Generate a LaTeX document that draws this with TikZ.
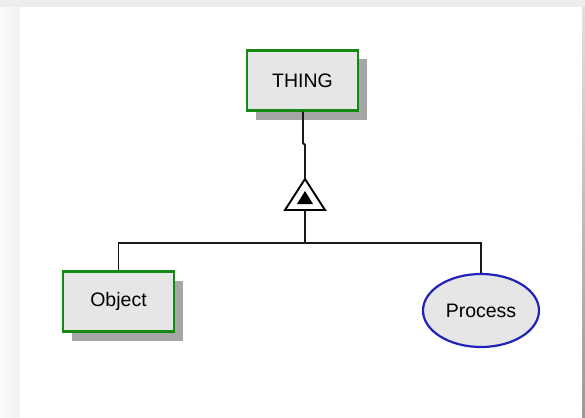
\documentclass[tikz,border=0pt]{standalone}
\usepackage{fontspec}
\setmainfont{Liberation Sans}
\usepackage{tikz}
\usetikzlibrary{shapes.geometric,shadows,calc}
\definecolor{boxfill}{HTML}{E6E6E6}
\definecolor{boxline}{HTML}{148A14}
\definecolor{ovalline}{HTML}{2222BB}
\definecolor{shadowgrey}{HTML}{A6A6A6}
\newcommand{\clrone}{boxline}
\newcommand{\clrtwo}{ovalline}

\begin{document}
\begin{tikzpicture}[x=1pt, y=-1pt,
    shade box/.style={drop shadow={shadow xshift=9pt, shadow yshift=-9pt, fill=shadowgrey, opacity=1}},
    thingbox/.style={draw=\clrone, line width=2.2pt, fill=boxfill, shade box,
        minimum width=111pt, minimum height=60pt, inner sep=0pt,
        font=\fontsize{19.5}{24}\selectfont},
    oval/.style={ellipse, draw=\clrtwo, line width=2.2pt, fill=boxfill,
        minimum width=116pt, minimum height=73pt, inner sep=0pt,
        font=\fontsize{19.5}{24}\selectfont},
    link/.style={black!90, line width=1.9pt}]
    \useasboundingbox (0,0) rectangle (585,417);

    % frame
    \shade[left color=black!2, right color=black!5] (0,0) rectangle (20,417);
    \fill[black!7] (0,0) rectangle (585,7);
    \shade[top color=black!12, bottom color=black!40] (582,7) rectangle (585,417);
    \fill[white] (20,7) rectangle (582,417);

    \node[thingbox] (thing) at (302.5,80.5) {THING};
    \node[thingbox] (object) at (118.5,301.5) {Object};
    \node[oval] (process) at (481,310.5) {Process};

    % generalisation triangle
    \coordinate (apex) at (305,179);
    \coordinate (base) at (305,210);
    \draw[black, line width=1.9pt, fill=white, line join=miter] (apex) -- (285,210) -- (325,210) -- cycle;
    \fill[black] (305,191) -- (297,204) -- (313,204) -- cycle;

    \coordinate (kink) at (303,143);
    \coordinate (bar) at (305,243);
    \draw[link] (thing.south -| kink) -- (kink) -- ++(2,2) -- (apex);
    \draw[link] (base) -- (bar);
    \draw[link] (object.north) -- (object.north |- bar) -- (process.north |- bar) -- (process.north);
\end{tikzpicture}
\end{document}
